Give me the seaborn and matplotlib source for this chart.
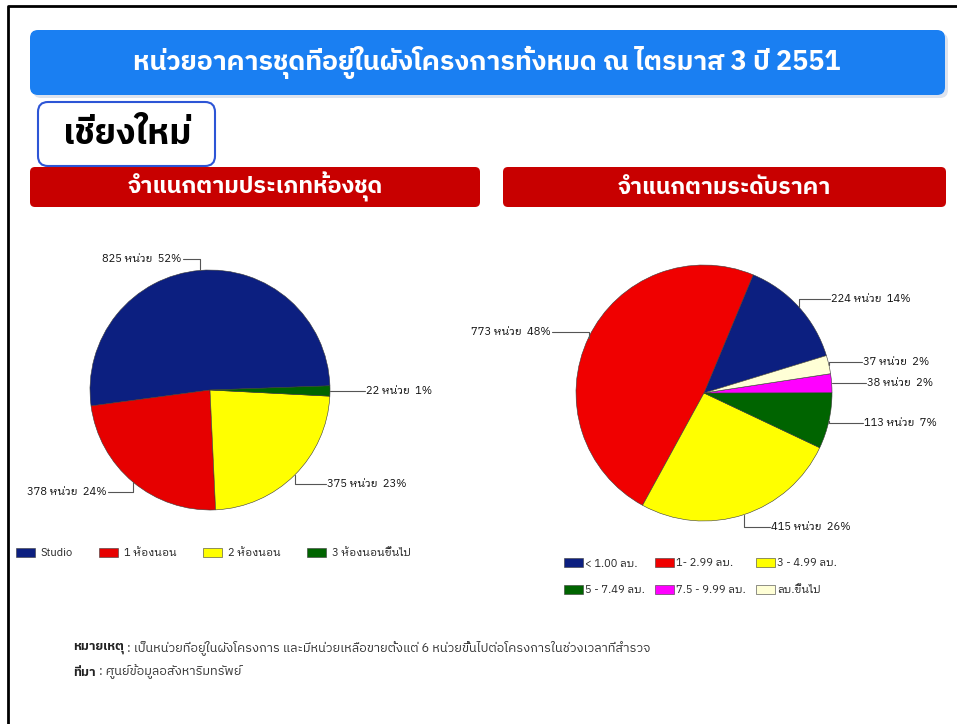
import matplotlib
matplotlib.use("Agg")
import matplotlib.pyplot as plt
from matplotlib.patches import FancyBboxPatch
import seaborn as sns
import numpy as np

# ---- data ----
room_types = ["Studio", "1 ห้องนอน", "2 ห้องนอน", "3 ห้องนอนขึ้นไป"]
room_units = [825, 378, 375, 22]
room_colors = ["#0c1f80", "#e60000", "#ffff00", "#006400"]

price_ranges = ["< 1.00 ลบ.", "1- 2.99 ลบ.", "3 - 4.99 ลบ.",
                "5 - 7.49 ลบ.", "7.5 - 9.99 ลบ.", "ลบ.ขึ้นไป"]
price_units = [224, 773, 415, 113, 38, 37]
price_colors = ["#0c1f80", "#f00000", "#ffff00", "#006400", "#ff00ff", "#ffffd6"]

title = "หน่วยอาคารชุดที่อยู่ในผังโครงการทั้งหมด ณ ไตรมาส 3 ปี 2551"
province = "เชียงใหม่"
sub_left = "จำแนกตามประเภทห้องชุด"
sub_right = "จำแนกตามระดับราคา"
note_head = "หมายเหตุ"
note_body = " : เป็นหน่วยที่อยู่ในผังโครงการ และมีหน่วยเหลือขายตั้งแต่ 6 หน่วยขึ้นไปต่อโครงการในช่วงเวลาที่สำรวจ"
source_head = "ที่มา"
source_body = " : ศูนย์ข้อมูลอสังหาริมทรัพย์"

# label anchor points, in pie-radius units (x, y, alignment)
room_label_pos = [(-0.225, 1.09, "right"), (-0.85, -0.85, "right"),
                  (0.967, -0.783, "left"), (1.29, -0.01, "left")]
price_label_pos = [(0.984, 0.734, "left"), (-1.19, 0.477, "right"),
                   (0.516, -1.047, "left"), (1.242, -0.234, "left"),
                   (1.266, 0.078, "left"), (1.234, 0.242, "left")]

sns.set_theme(style="white")
PLAIN = ["IBM Plex Sans Thai", "Noto Sans Thai", "DejaVu Sans"]
LOOPED = ["IBM Plex Sans Thai Looped", "Noto Sans Thai Looped", "DejaVu Sans"]
plt.rcParams["font.family"] = PLAIN

W, H = 957, 724
fig = plt.figure(figsize=(W / 100, H / 100), dpi=100)
fig.patch.set_facecolor("white")
renderer = fig.canvas.get_renderer()

# background layer in pixel coordinates
bg = fig.add_axes([0, 0, 1, 1], zorder=0)
bg.set_xlim(0, W)
bg.set_ylim(H, 0)
bg.axis("off")


def box(x0, y0, x1, y1, face, edge="none", lw=0, r=8):
    bg.add_patch(FancyBboxPatch((x0, y0), x1 - x0, y1 - y0,
                                boxstyle=f"round,pad=0,rounding_size={r}",
                                facecolor=face, edgecolor=edge, linewidth=lw))


def fit_text(x, y, s, width, **kw):
    # size the text so that it spans the given pixel width
    t = bg.text(x, y, s, fontsize=10, **kw)
    w = t.get_window_extent(renderer).width
    t.set_fontsize(10 * width / w)
    return t


# page frame
bg.plot([8, 8, W], [H, 6, 6], color="black", lw=2, solid_capstyle="butt")

box(33, 33, 948, 98, "#dde3ee")  # soft shadow
box(30, 30, 945, 95, "#1a7ff2")
fit_text(487, 62, title, 703, color="white", fontweight="bold",
         ha="center", va="center")

box(30, 167, 480, 207, "#c80000", r=5)
box(503, 167, 946, 207, "#c80000", r=5)
fit_text(255, 187, sub_left, 255, color="white", fontweight="bold",
         ha="center", va="center")
fit_text(724, 187, sub_right, 212, color="white", fontweight="bold",
         ha="center", va="center")

box(38, 102, 215, 166, "white", edge="#2d55d6", lw=1.5, r=10)
fit_text(127, 134, province, 128, color="black", fontweight="bold",
         ha="center", va="center")


def draw_pie(rect, values, colors, start, label_pos):
    ax = fig.add_axes(rect, zorder=2)
    wedges, _ = ax.pie(values, colors=colors, startangle=start, counterclock=True,
                       radius=1, wedgeprops=dict(edgecolor="#3a3a3a", linewidth=0.4))
    total = sum(values)
    for w, v, (tx, ty, ha) in zip(wedges, values, label_pos):
        mid = np.deg2rad((w.theta1 + w.theta2) / 2)
        ex, ey = np.cos(mid), np.sin(mid)
        ax.plot([ex, ex, tx], [ey, ty, ty], color="#555555", lw=0.8, clip_on=False)
        pad = 0.01 if ha == "left" else -0.01
        ax.text(tx + pad, ty, f"{v} หน่วย  {round(v / total * 100)}%", ha=ha,
                va="center", fontsize=8, family=LOOPED, color="#111111", clip_on=False)
    ax.set_xlim(-1, 1)
    ax.set_ylim(-1, 1)
    ax.set_aspect("equal")
    ax.axis("off")
    return wedges


def px_rect(cx, cy, r):
    return [(cx - r) / W, (H - cy - r) / H, 2 * r / W, 2 * r / H]


room_wedges = draw_pie(px_rect(210, 390, 120), room_units, room_colors, 2, room_label_pos)
price_wedges = draw_pie(px_rect(704, 393, 128), price_units, price_colors, 17, price_label_pos)

leg1 = fig.legend(room_wedges, room_types, loc="center left",
                  bbox_to_anchor=(16 / W, 1 - 553 / H), ncol=4, frameon=False,
                  prop=dict(family=LOOPED, size=8), handlelength=1.7, handleheight=0.9,
                  handletextpad=0.5, columnspacing=2.4, borderpad=0, borderaxespad=0)

# legend fills column-major; reorder so it reads row by row
order = [0, 3, 1, 4, 2, 5]
leg2 = fig.legend([price_wedges[i] for i in order], [price_ranges[i] for i in order],
                  loc="upper left", bbox_to_anchor=(564 / W, 1 - 558 / H), ncol=3,
                  frameon=False, prop=dict(family=LOOPED, size=8), handlelength=1.7,
                  handleheight=0.9, handletextpad=0.2, columnspacing=0.9,
                  labelspacing=1.45, borderpad=0, borderaxespad=0)

# footnotes: bold head followed by regular body
for y, head, body in [(648, note_head, note_body), (672, source_head, source_body)]:
    t = bg.text(73, y, head, fontsize=9.2, fontweight="bold", color="#222222",
                ha="left", va="center")
    ext = t.get_window_extent(renderer)
    bg.text(73 + ext.width, y, body, fontsize=9.2, color="#333333",
            ha="left", va="center")

fig.savefig("out.png", dpi=100)
